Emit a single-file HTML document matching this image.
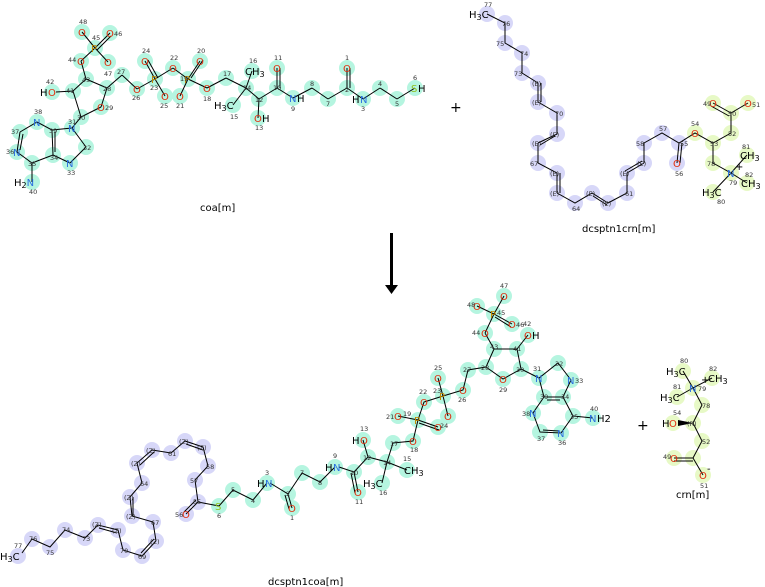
<!DOCTYPE html>
<html><head><meta charset="utf-8"><style>
html,body{margin:0;padding:0;background:#fff;}
svg{display:block;font-family:"DejaVu Sans","Liberation Sans",sans-serif;}
.a{fill:#b5f5e0}.l{fill:#d7d7f8}.y{fill:#e7f9c6}
.b{stroke:#000;stroke-width:1;fill:none}
.O{fill:#e03010;font-size:10px}.N{fill:#2a70e0;font-size:10px}.P{fill:#c08800;font-size:10px}.S{fill:#90c020;font-size:10px}
.K{fill:#000;font-size:10px}.n{fill:#333;font-size:6.5px}.lab{font-size:10px;fill:#000}
</style></head><body>
<svg width="765" height="587" viewBox="0 0 765 587" xmlns="http://www.w3.org/2000/svg">
<!-- ========== coa[m] ========== -->
<g>
<g class="a">
<circle cx="82" cy="32" r="8"/><circle cx="110" cy="33" r="8"/><circle cx="95" cy="48" r="8"/><circle cx="81" cy="61" r="8"/><circle cx="108" cy="62" r="8"/>
<circle cx="86" cy="79" r="8"/><circle cx="52" cy="92" r="8"/><circle cx="73" cy="91" r="8"/><circle cx="107" cy="88" r="8"/><circle cx="122" cy="75" r="8"/>
<circle cx="137" cy="89" r="8"/><circle cx="101" cy="107" r="8"/><circle cx="81" cy="117" r="8"/><circle cx="145" cy="61" r="8"/><circle cx="155" cy="79" r="8"/>
<circle cx="165" cy="96" r="8"/><circle cx="173" cy="68" r="8"/><circle cx="188" cy="79" r="8"/><circle cx="200" cy="61" r="8"/><circle cx="180" cy="96" r="8"/>
<circle cx="207" cy="88" r="8"/><circle cx="226" cy="78" r="8"/><circle cx="246" cy="88" r="8"/><circle cx="252" cy="71" r="8"/><circle cx="233" cy="105" r="8"/>
<circle cx="259" cy="99" r="8"/><circle cx="258" cy="118" r="8"/><circle cx="277" cy="88" r="8"/><circle cx="277" cy="68" r="8"/><circle cx="293" cy="98" r="8"/>
<circle cx="312" cy="88" r="8"/><circle cx="328" cy="99" r="8"/><circle cx="347" cy="88" r="8"/><circle cx="347" cy="68" r="8"/><circle cx="363" cy="99" r="8"/>
<circle cx="380" cy="88" r="8"/><circle cx="397" cy="99" r="8"/><circle cx="415" cy="88" r="8"/>
<circle cx="72" cy="128" r="8"/><circle cx="86" cy="147" r="8"/><circle cx="70" cy="163" r="8"/><circle cx="53" cy="155" r="8"/><circle cx="52" cy="130" r="8"/>
<circle cx="37" cy="122" r="8"/><circle cx="20" cy="132" r="8"/><circle cx="17" cy="152" r="8"/><circle cx="32" cy="163" r="8"/><circle cx="32" cy="182" r="8"/>
</g>
<path class="b" d="M82 32L95 48M95 48L110 33M97 50L111 36M95 48L108 62M95 48L81 61M81 61L86 79M86 79L73 91M73 91L56 92M86 79L107 88M107 88L101 107M101 107L81 117M81 117L73 91
M107 88L122 75M122 75L137 89M137 89L155 79M155 79L145 61M158 78L148 60M155 79L165 96M155 79L173 68M173 68L188 79M188 79L200 61M191 78L203 60M188 79L180 96M188 79L207 88M207 88L226 78M226 78L246 88
M246 88L252 71M246 88L233 105M246 88L259 99M259 99L258 118M259 99L277 88M277 88L277 68M280 88L280 68M277 88L293 98M293 98L312 88M312 88L328 99M328 99L347 88M347 88L347 68M350 88L350 68M347 88L363 99M363 99L380 88M380 88L397 99M397 99L415 88
M81 117L72 128M72 128L52 130M72 128L86 147M86 147L70 163M70 163L53 155M53 155L52 130M52 130L37 122M37 122L20 132M20 132L17 152M17 152L32 163M32 163L53 155M32 163L32 182M55 152L55 132M23 134L20 150"/>
<text class="O" x="78" y="36">O</text><text class="O" x="106" y="37">O</text><text class="P" x="91" y="52">P</text><text class="O" x="77" y="65">O</text><text class="O" x="104" y="66">O</text>
<text class="K" x="40" y="96">H</text><text class="O" x="48" y="96">O</text><text class="O" x="97" y="111">O</text><text class="O" x="133" y="93">O</text>
<text class="O" x="141" y="65">O</text><text class="P" x="151" y="83">P</text><text class="O" x="161" y="100">O</text><text class="O" x="169" y="72">O</text><text class="P" x="184" y="83">P</text>
<text class="O" x="196" y="65">O</text><text class="O" x="176" y="100">O</text><text class="O" x="203" y="92">O</text>
<text class="K" x="245" y="75">CH<tspan font-size="8" dy="2">3</tspan></text><text class="K" x="214" y="109">H<tspan font-size="8" dy="2">3</tspan><tspan dy="-2">C</tspan></text>
<text class="O" x="254" y="122">O</text><text class="K" x="262" y="122">H</text><text class="O" x="273" y="72">O</text><text class="N" x="289" y="102">N</text><text class="K" x="297" y="102">H</text>
<text class="O" x="343" y="72">O</text><text class="K" x="352" y="103">H</text><text class="N" x="360" y="103">N</text><text class="S" x="411" y="92">S</text><text class="K" x="418" y="92">H</text>
<text class="N" x="68" y="132">N</text><text class="N" x="66" y="167">N</text><text class="N" x="33" y="126">N</text><text class="N" x="13" y="156">N</text>
<text class="K" x="14" y="186">H<tspan font-size="8" dy="2">2</tspan><tspan class="N" dy="-2">N</tspan></text>
<g class="n"><text x="79" y="24">48</text><text x="114" y="36">46</text><text x="92" y="40">45</text><text x="68" y="62">44</text><text x="104" y="76">47</text><text x="46" y="84">42</text>
<text x="66" y="93">41</text><text x="82" y="82">43</text><text x="103" y="91">28</text><text x="117" y="74">27</text><text x="132" y="100">26</text><text x="105" y="110">29</text><text x="77" y="120">30</text>
<text x="142" y="53">24</text><text x="150" y="90">23</text><text x="160" y="108">25</text><text x="170" y="60">22</text><text x="180" y="81">19</text><text x="197" y="53">20</text><text x="176" y="108">21</text>
<text x="203" y="101">18</text><text x="223" y="76">17</text><text x="243" y="90">14</text><text x="249" y="63">16</text><text x="230" y="119">15</text><text x="255" y="102">12</text><text x="255" y="130">13</text>
<text x="273" y="90">10</text><text x="274" y="60">11</text><text x="291" y="111">9</text><text x="310" y="86">8</text><text x="326" y="106">7</text><text x="345" y="60">1</text><text x="345" y="92">2</text>
<text x="361" y="111">3</text><text x="378" y="86">4</text><text x="395" y="106">5</text><text x="413" y="80">6</text>
<text x="68" y="124">31</text><text x="83" y="150">32</text><text x="67" y="175">33</text><text x="50" y="160">34</text><text x="49" y="133">39</text><text x="34" y="114">38</text>
<text x="11" y="134">37</text><text x="6" y="154">36</text><text x="28" y="166">35</text><text x="29" y="194">40</text></g>
<text class="lab" x="200" y="211">coa[m]</text>
</g>
<!-- plus -->
<text x="450" y="112" font-size="14" fill="#000">+</text>
<!-- ========== dcsptn1crn[m] ========== -->
<g>
<g class="l">
<circle cx="487" cy="14" r="8"/><circle cx="505" cy="23" r="8"/><circle cx="505" cy="43" r="8"/><circle cx="522" cy="53" r="8"/><circle cx="522" cy="73" r="8"/>
<circle cx="538" cy="83" r="8"/><circle cx="538" cy="102" r="8"/><circle cx="557" cy="113" r="8"/><circle cx="557" cy="134" r="8"/><circle cx="538" cy="143" r="8"/>
<circle cx="538" cy="163" r="8"/><circle cx="557" cy="173" r="8"/><circle cx="557" cy="193" r="8"/><circle cx="575" cy="203" r="8"/><circle cx="592" cy="193" r="8"/>
<circle cx="608" cy="203" r="8"/><circle cx="627" cy="193" r="8"/><circle cx="627" cy="173" r="8"/><circle cx="644" cy="163" r="8"/><circle cx="644" cy="143" r="8"/>
<circle cx="662" cy="133" r="8"/><circle cx="679" cy="143" r="8"/><circle cx="677" cy="163" r="8"/>
</g>
<g class="y">
<circle cx="695" cy="133" r="8"/><circle cx="713" cy="143" r="8"/><circle cx="731" cy="133" r="8"/><circle cx="731" cy="113" r="8"/><circle cx="713" cy="103" r="8"/>
<circle cx="748" cy="103" r="8"/><circle cx="713" cy="163" r="8"/><circle cx="731" cy="173" r="8"/><circle cx="747" cy="155" r="8"/><circle cx="747" cy="183" r="8"/><circle cx="713" cy="192" r="8"/>
</g>
<path class="b" d="M487 14L505 23L505 43L522 53L522 73L538 83L538 102M541 83L541 102M538 102L557 113L557 134L538 143M555 136L540 145M538 143L538 163L557 173L557 193M560 173L560 193M557 193L575 203L592 193L608 203M593 196L607 205M608 203L627 193L627 173L644 163M625 171L642 161M644 163L644 143L662 133L679 143L695 133L713 143L731 133L731 113L748 103M679 143L677 163M682 143L680 163M731 113L713 103M729 116L711 106M713 143L713 163L731 173L747 155M731 173L747 183M731 173L713 192"/>
<text class="K" x="469" y="18">H<tspan font-size="8" dy="2">3</tspan><tspan dy="-2">C</tspan></text>
<text class="O" x="673" y="167">O</text><text class="O" x="691" y="137">O</text><text class="O" x="709" y="107">O</text><text class="O" x="744" y="107">O</text>
<text class="N" x="727" y="177">N</text><text class="K" x="735" y="170" font-size="9">+</text>
<text class="K" x="740" y="159">CH<tspan font-size="8" dy="2">3</tspan></text><text class="K" x="741" y="187">CH<tspan font-size="8" dy="2">3</tspan></text>
<text class="K" x="702" y="196">H<tspan font-size="8" dy="2">3</tspan><tspan dy="-2">C</tspan></text>
<g class="n"><text x="484" y="7">77</text><text x="502" y="26">76</text><text x="496" y="46">75</text><text x="520" y="56">74</text><text x="514" y="76">73</text><text x="532" y="86">(E)</text>
<text x="532" y="105">(E)</text><text x="555" y="116">70</text><text x="550" y="137">(E)</text><text x="532" y="146">(E)</text><text x="530" y="166">67</text><text x="550" y="176">(E)</text>
<text x="550" y="196">(E)</text><text x="572" y="211">64</text><text x="586" y="196">(E)</text><text x="602" y="206">(E)</text><text x="625" y="196">61</text><text x="620" y="176">(E)</text>
<text x="637" y="166">(E)</text><text x="636" y="146">58</text><text x="659" y="131">57</text><text x="680" y="146">55</text><text x="675" y="176">56</text><text x="691" y="126">54</text>
<text x="710" y="146">53</text><text x="728" y="136">52</text><text x="728" y="116">50</text><text x="703" y="106">49</text><text x="752" y="107">51</text><text x="707" y="166">78</text>
<text x="729" y="185">79</text><text x="742" y="149">81</text><text x="745" y="177">82</text><text x="717" y="204">80</text></g>
<text class="lab" x="582" y="232">dcsptn1crn[m]</text>
</g>
<!-- arrow -->
<rect x="390" y="233" width="3" height="52" fill="#000"/>
<polygon points="385,285 398,285 391.5,294" fill="#000"/>
<!-- ========== dcsptn1coa[m] ========== -->
<g>
<g class="l">
<circle cx="18" cy="556" r="8"/><circle cx="32" cy="539" r="8"/><circle cx="50" cy="547" r="8"/><circle cx="65" cy="530" r="8"/><circle cx="85" cy="538" r="8"/>
<circle cx="98" cy="525" r="8"/><circle cx="118" cy="530" r="8"/><circle cx="123" cy="550" r="8"/><circle cx="142" cy="556" r="8"/><circle cx="156" cy="541" r="8"/>
<circle cx="153" cy="522" r="8"/><circle cx="132" cy="516" r="8"/><circle cx="130" cy="497" r="8"/><circle cx="142" cy="483" r="8"/><circle cx="137" cy="463" r="8"/>
<circle cx="152" cy="450" r="8"/><circle cx="171" cy="453" r="8"/><circle cx="185" cy="441" r="8"/><circle cx="203" cy="447" r="8"/><circle cx="208" cy="466" r="8"/>
<circle cx="195" cy="480" r="8"/><circle cx="198" cy="502" r="8"/><circle cx="186" cy="514" r="8"/>
</g>
<g class="a">
<circle cx="219" cy="506" r="8"/><circle cx="233" cy="490" r="8"/><circle cx="253" cy="500" r="8"/><circle cx="267" cy="483" r="8"/><circle cx="288" cy="494" r="8"/>
<circle cx="292" cy="508" r="8"/><circle cx="302" cy="473" r="8"/><circle cx="320" cy="482" r="8"/><circle cx="335" cy="467" r="8"/><circle cx="354" cy="472" r="8"/>
<circle cx="358" cy="492" r="8"/><circle cx="368" cy="457" r="8"/><circle cx="363" cy="440" r="8"/><circle cx="387" cy="462" r="8"/><circle cx="382" cy="483" r="8"/>
<circle cx="407" cy="470" r="8"/><circle cx="393" cy="443" r="8"/><circle cx="413" cy="441" r="8"/><circle cx="398" cy="416" r="8"/><circle cx="418" cy="420" r="8"/>
<circle cx="438" cy="427" r="8"/><circle cx="424" cy="402" r="8"/><circle cx="443" cy="396" r="8"/><circle cx="438" cy="378" r="8"/><circle cx="463" cy="390" r="8"/>
<circle cx="448" cy="416" r="8"/><circle cx="468" cy="370" r="8"/><circle cx="486" cy="367" r="8"/><circle cx="494" cy="349" r="8"/><circle cx="485" cy="333" r="8"/>
<circle cx="494" cy="314" r="8"/><circle cx="477" cy="306" r="8"/><circle cx="504" cy="296" r="8"/><circle cx="512" cy="324" r="8"/><circle cx="517" cy="349" r="8"/>
<circle cx="528" cy="335" r="8"/><circle cx="521" cy="369" r="8"/><circle cx="503" cy="379" r="8"/><circle cx="539" cy="378" r="8"/><circle cx="558" cy="363" r="8"/>
<circle cx="571" cy="380" r="8"/><circle cx="563" cy="397" r="8"/><circle cx="544" cy="397" r="8"/><circle cx="533" cy="413" r="8"/><circle cx="540" cy="432" r="8"/>
<circle cx="561" cy="433" r="8"/><circle cx="573" cy="416" r="8"/><circle cx="593" cy="418" r="8"/>
</g>
<path class="b" d="M22 553L32 539L50 547L65 530L85 538L98 525L118 530M99 528L117 533M118 530L123 550L142 556L156 541M141 553L154 539M156 541L153 522L132 516L130 497M133 516L133 497M130 497L142 483L137 463L152 450M140 465L154 452M152 450L171 453L185 441L203 447M186 444L203 450M203 447L208 466L195 480L198 502L186 514M196 500L184 512M198 502L219 506
M219 506L233 490L253 500L267 483M270 483L288 494L292 508M285 495L289 509M288 494L302 473L320 482L335 467M339 467L354 472L358 492M351 473L355 493M354 472L368 457L363 440M368 457L387 462L382 483M387 462L407 470M387 462L393 443L413 441L418 420L398 416M418 420L424 402L443 396L438 378M418 420L438 427M419 423L439 430M443 396L463 390L468 370L486 367L494 349L485 333M494 349L517 349L528 335M517 349L521 369L503 379L486 367M485 333L494 314L477 306M494 314L504 296M494 314L512 324M495 317L511 327M443 396L448 416
M521 369L539 378L558 363L571 380L563 397L544 397L539 378M544 397L533 413L540 432L561 433L573 416L563 397M573 416L593 418M547 400L560 400M543 430L559 431"/>
<text class="K" x="0" y="560">H<tspan font-size="8" dy="2">3</tspan><tspan dy="-2">C</tspan></text>
<text class="O" x="182" y="518">O</text><text class="S" x="215" y="510">S</text><text class="K" x="257" y="487">H</text><text class="N" x="265" y="487">N</text>
<text class="O" x="288" y="512">O</text><text class="K" x="325" y="471">H</text><text class="N" x="333" y="471">N</text><text class="O" x="354" y="496">O</text>
<text class="K" x="352" y="444">H</text><text class="O" x="360" y="444">O</text><text class="K" x="363" y="487">H<tspan font-size="8" dy="2">3</tspan><tspan dy="-2">C</tspan></text>
<text class="K" x="404" y="474">CH<tspan font-size="8" dy="2">3</tspan></text><text class="O" x="409" y="445">O</text><text class="O" x="394" y="420">O</text>
<text class="P" x="414" y="424">P</text><text class="O" x="434" y="431">O</text><text class="O" x="420" y="406">O</text><text class="P" x="439" y="400">P</text>
<text class="O" x="434" y="382">O</text><text class="O" x="459" y="394">O</text><text class="O" x="444" y="420">O</text><text class="O" x="499" y="383">O</text>
<text class="O" x="481" y="337">O</text><text class="P" x="490" y="318">P</text><text class="O" x="473" y="310">O</text><text class="O" x="500" y="300">O</text><text class="O" x="508" y="328">O</text>
<text class="O" x="524" y="339">O</text><text class="K" x="532" y="339">H</text>
<text class="N" x="535" y="382">N</text><text class="N" x="567" y="384">N</text><text class="N" x="529" y="417">N</text><text class="N" x="557" y="437">N</text>
<text class="N" x="589" y="422">N</text><text class="K" x="597" y="422">H2</text>
<g class="n"><text x="14" y="548">77</text><text x="29" y="541">76</text><text x="46" y="555">75</text><text x="62" y="532">74</text><text x="82" y="541">73</text><text x="92" y="527">(Z)</text>
<text x="112" y="533">(Z)</text><text x="120" y="553">70</text><text x="138" y="559">69</text><text x="150" y="544">(Z)</text><text x="151" y="525">67</text><text x="126" y="519">(Z)</text>
<text x="124" y="500">(Z)</text><text x="140" y="486">64</text><text x="131" y="466">(Z)</text><text x="146" y="453">(Z)</text><text x="168" y="456">61</text><text x="179" y="444">(Z)</text>
<text x="197" y="450">(Z)</text><text x="206" y="469">58</text><text x="190" y="483">57</text><text x="193" y="504">55</text><text x="175" y="517">56</text><text x="217" y="518">6</text>
<text x="231" y="492">5</text><text x="251" y="503">4</text><text x="265" y="475">3</text><text x="286" y="496">2</text><text x="290" y="520">1</text><text x="300" y="475">7</text>
<text x="318" y="485">8</text><text x="333" y="458">9</text><text x="350" y="475">10</text><text x="355" y="504">11</text><text x="360" y="431">13</text><text x="363" y="460">12</text>
<text x="383" y="465">14</text><text x="403" y="461">15</text><text x="379" y="495">16</text><text x="390" y="446">17</text><text x="410" y="452">18</text><text x="403" y="416">19</text>
<text x="386" y="419">21</text><text x="440" y="428">24</text><text x="419" y="394">22</text><text x="433" y="393">23</text><text x="434" y="370">25</text><text x="458" y="402">26</text>
<text x="463" y="372">27</text><text x="481" y="370">28</text><text x="499" y="392">29</text><text x="516" y="372">30</text><text x="490" y="349">43</text><text x="472" y="335">44</text>
<text x="497" y="315">45</text><text x="467" y="307">48</text><text x="500" y="288">47</text><text x="516" y="327">46</text><text x="523" y="326">42</text><text x="513" y="351">41</text>
<text x="533" y="371">31</text><text x="555" y="366">32</text><text x="575" y="383">33</text><text x="561" y="399">34</text><text x="540" y="399">39</text><text x="522" y="416">38</text>
<text x="537" y="441">37</text><text x="558" y="445">36</text><text x="570" y="419">35</text><text x="590" y="411">40</text></g>
<text class="lab" x="268" y="585">dcsptn1coa[m]</text>
</g>
<!-- plus -->
<text x="637" y="430" font-size="14" fill="#000">+</text>
<!-- ========== crn[m] ========== -->
<g>
<g class="y">
<circle cx="683" cy="371" r="8"/><circle cx="712" cy="378" r="8"/><circle cx="693" cy="388" r="8"/><circle cx="677" cy="397" r="8"/><circle cx="702" cy="405" r="8"/>
<circle cx="693" cy="423" r="8"/><circle cx="673" cy="423" r="8"/><circle cx="702" cy="441" r="8"/><circle cx="693" cy="458" r="8"/><circle cx="674" cy="458" r="8"/><circle cx="703" cy="475" r="8"/>
</g>
<path class="b" d="M683 371L693 388L712 378M693 388L677 397M693 388L702 405L693 423L702 441L693 458L703 475M693 458L674 458M693 461L674 461"/>
<polygon points="693,423 678,420 678,426" fill="#000"/>
<text class="K" x="666" y="375">H<tspan font-size="8" dy="2">3</tspan><tspan dy="-2">C</tspan></text>
<text class="K" x="701" y="383">+</text><text class="K" x="708" y="382">CH<tspan font-size="8" dy="2">3</tspan></text>
<text class="N" x="689" y="392">N</text><text class="K" x="660" y="401">H<tspan font-size="8" dy="2">3</tspan><tspan dy="-2">C</tspan></text>
<text class="K" x="662" y="427">H</text><text class="O" x="669" y="427">O</text><text class="n" x="687" y="426" font-size="8">(R)</text>
<text class="O" x="670" y="462">O</text><text class="O" x="699" y="479">O</text><text class="K" x="707" y="472" font-size="8">-</text>
<g class="n"><text x="680" y="363">80</text><text x="709" y="371">82</text><text x="673" y="389">81</text><text x="698" y="391">79</text><text x="702" y="408">78</text>
<text x="673" y="415">54</text><text x="702" y="444">52</text><text x="663" y="459">49</text><text x="700" y="488">51</text></g>
<text class="lab" x="676" y="498">crn[m]</text>
</g>
</svg>
</body></html>
